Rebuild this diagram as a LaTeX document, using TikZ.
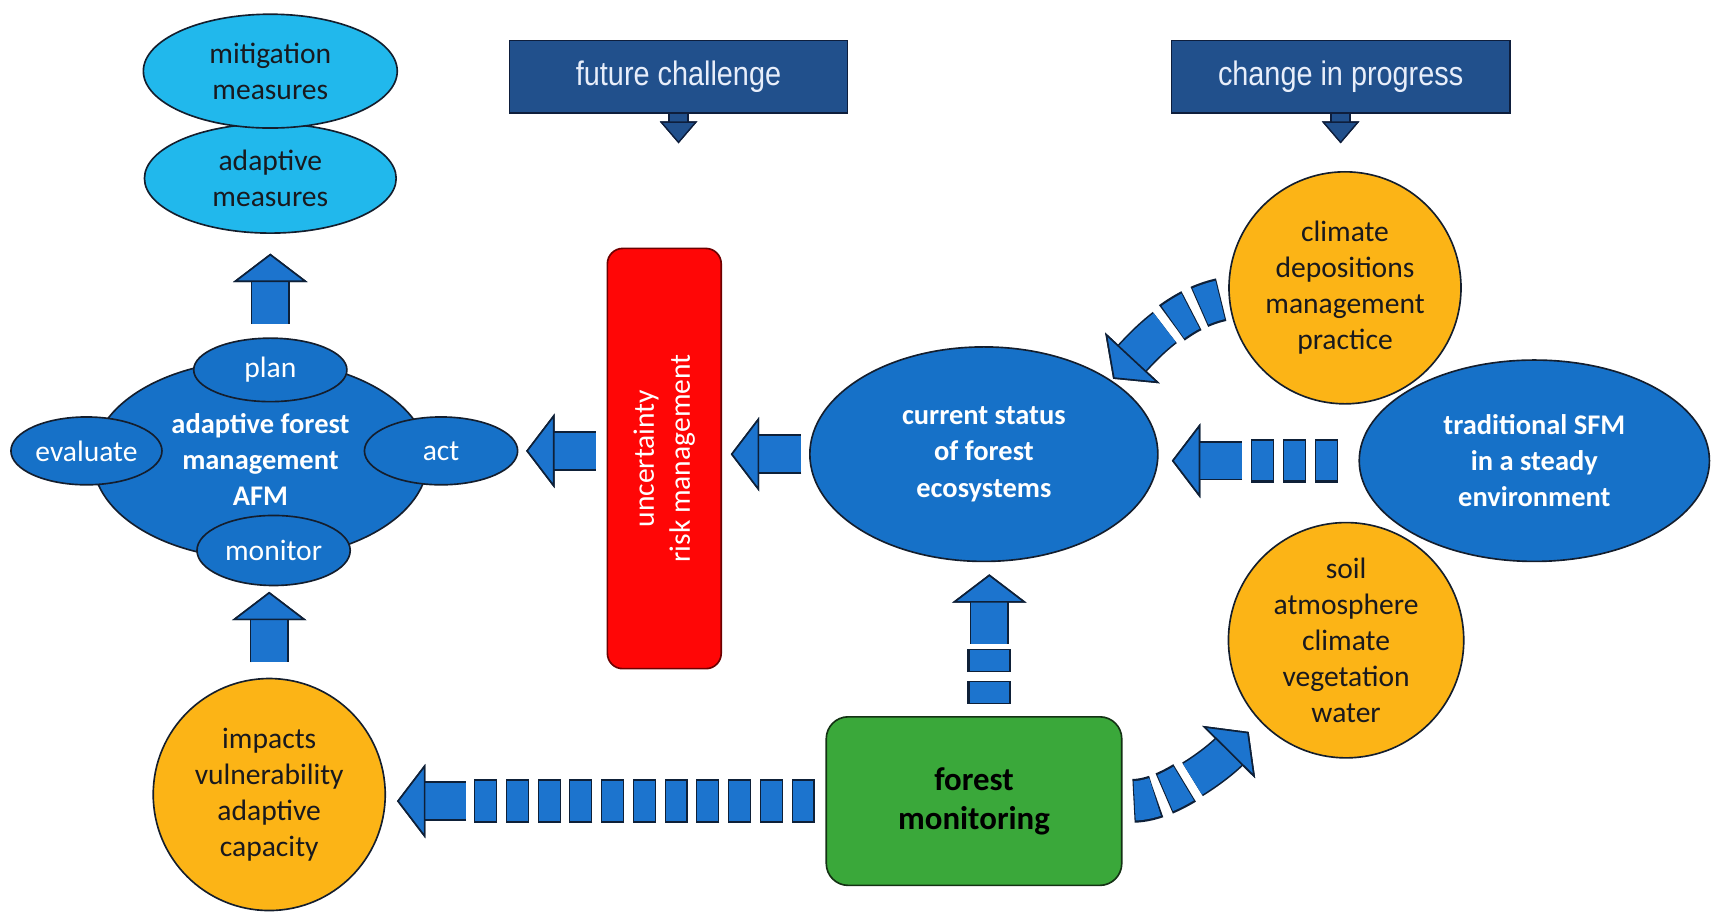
\documentclass[tikz,border=0pt]{standalone}
\usepackage{fontspec}
\setmainfont{Carlito}
\newfontfamily\headfont[FakeStretch=0.85]{Liberation Sans}
\usetikzlibrary{shapes.geometric, arrows.meta, positioning}

\definecolor{cyanfill}{RGB}{33,184,236}
\definecolor{bluefill}{RGB}{22,113,200}
\definecolor{arrowblue}{RGB}{28,116,206}
\definecolor{arrowdark}{RGB}{14,32,56}
\definecolor{edgedark}{RGB}{20,30,45}
\definecolor{orangefill}{RGB}{252,180,22}
\definecolor{greenfill}{RGB}{58,168,58}
\definecolor{greendark}{RGB}{20,50,20}
\definecolor{redfill}{RGB}{255,6,6}
\definecolor{reddark}{RGB}{110,0,0}
\definecolor{navyfill}{RGB}{33,80,140}
\definecolor{navydark}{RGB}{14,30,60}
\definecolor{headtext}{RGB}{232,238,250}
\definecolor{darktext}{RGB}{25,25,30}

\tikzstyle{lightell} = [
    ellipse,
    inner sep=0pt,
    align=center,
    draw=edgedark,
    line width=1.5pt,
    fill=cyanfill,
    text=darktext,
    font=\fontsize{27}{33}\selectfont
]
\tikzstyle{blueell} = [
    ellipse,
    inner sep=0pt,
    align=center,
    draw=edgedark,
    line width=1.5pt,
    fill=bluefill,
    text=white,
    font=\fontsize{26}{33}\selectfont\bfseries
]
\tikzstyle{smallell} = [
    blueell,
    font=\fontsize{27}{33}\selectfont
]
\tikzstyle{orangeell} = [
    circle,
    inner sep=0pt,
    align=center,
    draw=edgedark,
    line width=1.5pt,
    fill=orangefill,
    text=darktext,
    font=\fontsize{27}{33}\selectfont
]
\tikzstyle{redbox} = [
    rectangle,
    rounded corners=14pt,
    draw=reddark,
    line width=1.5pt,
    fill=redfill
]
\tikzstyle{redtext} = [
    align=center,
    text=white,
    font=\fontsize{27}{33}\selectfont
]
\tikzstyle{greenbox} = [
    rectangle,
    rounded corners=20pt,
    align=center,
    draw=greendark,
    line width=1.5pt,
    fill=greenfill,
    text=black,
    font=\fontsize{30}{36}\selectfont\bfseries
]
\tikzstyle{headbox} = [
    rectangle,
    draw=navydark,
    line width=1.5pt,
    fill=navyfill,
    text=headtext,
    font=\headfont\fontsize{31}{36}\selectfont
]
\tikzstyle{bigarrow} = [
    draw=arrowblue,
    line width=33pt,
    -{Triangle[length=26pt, width=68pt, line width=1.5pt, color=arrowdark, fill=arrowblue]},
    preaction={draw=arrowdark, line width=36pt}
]
\tikzstyle{headarrow} = [
    draw=navyfill,
    line width=16pt,
    -{Triangle[length=20pt, width=34pt, line width=1.2pt, color=navydark, fill=navyfill]},
    preaction={draw=navydark, line width=19pt}
]
\tikzstyle{segline} = [
    draw=arrowdark,
    line width=40pt,
    dash pattern=on 21pt off 8pt,
    postaction={draw=arrowblue, line width=36pt, dash pattern=on 19pt off 10pt, dash phase=28pt}
]
\tikzstyle{segpair} = [
    draw=arrowdark,
    line width=40pt,
    dash pattern=on 21pt off 8pt on 21pt off 400pt,
    postaction={draw=arrowblue, line width=36pt, dash pattern=on 19pt off 10pt on 19pt off 401pt, dash phase=448pt}
]
\tikzstyle{headpart} = [
    draw=arrowblue,
    line width=33pt,
    -{Triangle[length=26pt, width=68pt, line width=1.5pt, color=arrowdark, fill=arrowblue]},
    dash pattern=on 400pt off 58pt, dash phase=400pt,
    preaction={draw=arrowdark, line width=36pt, dash pattern=on 400pt off 58pt, dash phase=400pt}
]

\begin{document}
\begin{tikzpicture}[x=1pt, y=-1pt]
\useasboundingbox (0,0) rectangle (1568,837);

% Nodes
\node (adapt) [lightell, minimum width=230pt, minimum height=100pt] at (247,163) {adaptive\\measures};
\node (mitig) [lightell, minimum width=232pt, minimum height=104pt] at (247,65) {mitigation\\measures};
\node (afm) [blueell, minimum width=306pt, minimum height=182pt] at (238,420) {adaptive forest\\management\\AFM};
\node (plan) [smallell, minimum width=140pt, minimum height=58pt] at (247,338) {plan};
\node (eval) [smallell, minimum width=138pt, minimum height=62pt] at (79,412) {evaluate};
\node (act) [smallell, minimum width=140pt, minimum height=62pt] at (403,412) {act};
\node (monit) [smallell, minimum width=140pt, minimum height=64pt] at (250,503) {monitor};
\node (impacts) [orangeell, minimum size=212pt] at (246,726) {impacts\\vulnerability\\adaptive\\capacity};
\node (unc) [redbox, minimum width=104pt, minimum height=384pt] at (607,419) {};
\node (unctext) [redtext, rotate=90] at (unc.center) {uncertainty\\risk management};
\node (curr) [blueell, minimum width=318pt, minimum height=196pt] at (899,415) {current status\\of forest\\ecosystems};
\node (trad) [blueell, minimum width=320pt, minimum height=184pt] at (1402,421) {traditional SFM\\in a steady\\environment};
\node (clim) [orangeell, minimum size=212pt] at (1229,263) {climate\\depositions\\management\\practice};
\node (soil) [orangeell, minimum size=215pt] at (1230,585) {soil\\atmosphere\\climate\\vegetation\\water};
\node (fmon) [greenbox, minimum width=270pt, minimum height=154pt] at (890,732) {forest\\monitoring};
\node (fut) [headbox, minimum width=309pt, minimum height=66pt] at (620,70) {future challenge};
\node (chg) [headbox, minimum width=309pt, minimum height=66pt] at (1225,70) {change in progress};
\coordinate (futtip) at (620,131);
\coordinate (chgtip) at (1225,131);
\coordinate (s5) at (1141,421);
\coordinate (s6) at (904,590);
\coordinate (s7) at (428,732);

% Arrows
\draw [headarrow] (fut.south) -- (futtip);
\draw [headarrow] (chg.south) -- (chgtip);
\draw [bigarrow, shorten <=12pt, shorten >=18pt] (plan.north) -- (adapt.south);
\draw [bigarrow, shorten <=14pt, shorten >=5pt] (impacts.north) -- (monit.south -| impacts.north);
\draw [bigarrow, shorten <=10pt, shorten >=7pt] (unc.west |- act.east) -- (act.east);
\draw [bigarrow, shorten <=7pt, shorten >=8pt] (curr.west) -- (unc.east |- curr.west);
\draw [segline, shorten <=19pt] (trad.west) -- (s5);
\draw [bigarrow, shorten <=6pt, shorten >=12pt] (s5) -- (curr.east |- s5);
\draw [segline, shorten <=11pt] (s6 |- fmon.north) -- (s6);
\draw [bigarrow, shorten <=2pt, shorten >=11pt] (s6) -- (s6 |- curr.south);
\draw [segline, shorten <=10pt] (fmon.west) -- (s7);
\draw [bigarrow, shorten <=2pt, shorten >=10pt] (s7) -- (impacts.east |- s7);
\draw [segpair, shorten <=7pt] (clim.185) .. controls (1075,283) and (1046,315) .. (curr.30);
\draw [headpart, shorten <=7pt, shorten >=2pt] (clim.185) .. controls (1075,283) and (1046,315) .. (curr.30);
\draw [segpair, shorten <=10pt] (fmon.east) .. controls (1070,731) and (1113,697) .. (soil.223);
\draw [headpart, shorten <=10pt, shorten >=14pt] (fmon.east) .. controls (1070,731) and (1113,697) .. (soil.223);

\end{tikzpicture}
\end{document}
